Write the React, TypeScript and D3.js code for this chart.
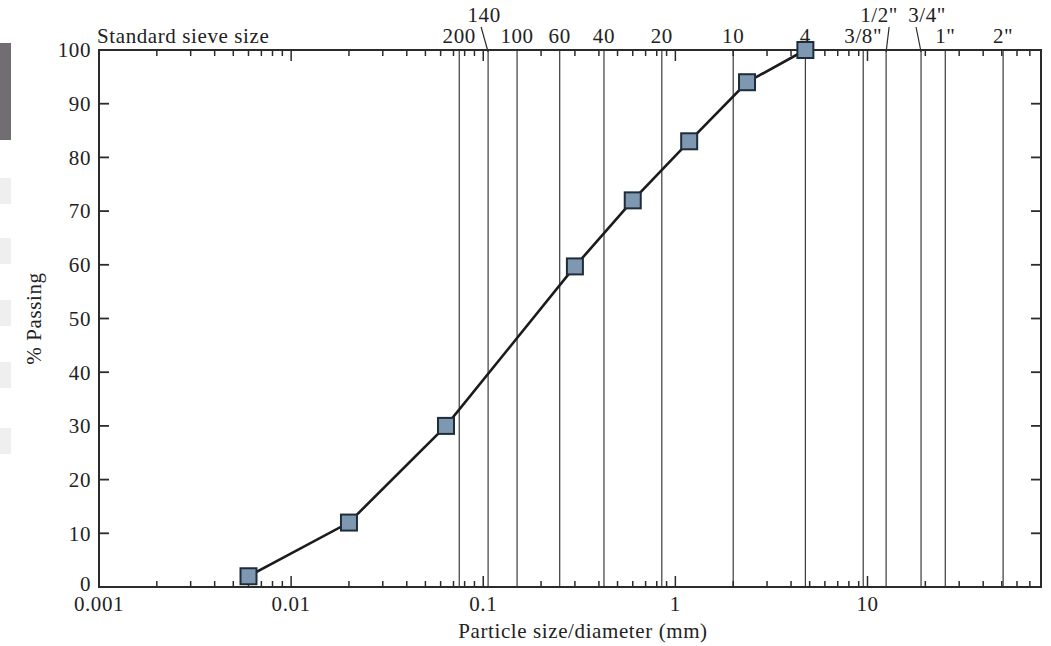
import React from 'react';
import * as d3 from 'd3';

// grain size distribution (mm, % passing)
const particleSizes = [0.006, 0.02, 0.064, 0.3, 0.6, 1.18, 2.36, 4.75];
const percentPassing = [2, 12, 30, 59.7, 72, 83, 94, 100];

// standard sieve openings (mm) and their labels
const sieveLabels = ['200', '140', '100', '60', '40', '20', '10', '4', '3/8"', '1/2"', '3/4"', '1"', '2"'];
const sieveSizes = [0.075, 0.106, 0.15, 0.25, 0.425, 0.85, 2.0, 4.75, 9.5, 12.5, 19.0, 25.4, 50.8];
const raisedLabels = ['140', '1/2"', '3/4"'];

const xTickLabels = ['0.001', '0.01', '0.1', '1', '10'];
const yTickValues = [0, 10, 20, 30, 40, 50, 60, 70, 80, 90, 100];

const width = 1051;
const height = 646;
const margin = { top: 50, right: 10, bottom: 59, left: 99 };
const font = '"Liberation Serif", "Times New Roman", serif';
const ink = '#2b2b2b';

// label / leader offsets for the raised sieve labels (relative to the sieve line)
const raisedOffsets = {
  '140': { label: -4, leader: -7 },
  '1/2"': { label: -7, leader: 3 },
  '3/4"': { label: 6, leader: -5 },
};

export default function App() {
  const x = d3
    .scaleLog()
    .domain([0.001, 80])
    .range([margin.left, width - margin.right]);
  const y = d3
    .scaleLinear()
    .domain([0, 100])
    .range([height - margin.bottom, margin.top]);

  const [x0, x1] = x.range();
  const [y0, y1] = y.range(); // y0 bottom, y1 top

  const logTicks = x.ticks();
  const isMajor = (v) => Math.abs(Math.log10(v) - Math.round(Math.log10(v))) < 1e-9;

  const line = d3
    .line()
    .x((d) => x(d[0]))
    .y((d) => y(d[1]));
  const points = particleSizes.map((s, i) => [s, percentPassing[i]]);

  const textStyle = { fontFamily: font, fontSize: 21, letterSpacing: 0.6, fill: '#222' };

  return (
    <svg
      width={width}
      height={height}
      viewBox={`0 0 ${width} ${height}`}
      style={{ position: 'absolute', left: 0, top: 0, background: '#fff' }}
    >
      {/* scan artefacts on the left edge */}
      <rect x={0} y={43} width={11} height={97} fill="#716d72" />
      {[178, 238, 300, 362, 428].map((t) => (
        <rect key={t} x={0} y={t} width={11} height={26} fill="#efefef" />
      ))}

      {/* sieve lines */}
      {sieveSizes.map((s, i) => (
        <line key={'sv' + i} x1={x(s)} x2={x(s)} y1={y1} y2={y0} stroke="#3a3a3a" strokeWidth={1.2} />
      ))}

      {/* sieve labels */}
      {sieveSizes.map((s, i) => {
        const lab = sieveLabels[i];
        const cx = x(s);
        if (!raisedLabels.includes(lab)) {
          return (
            <text key={'sl' + i} x={cx} y={y1 - 7} textAnchor="middle" style={textStyle}>
              {lab}
            </text>
          );
        }
        const off = raisedOffsets[lab];
        return (
          <g key={'sl' + i}>
            <text x={cx + off.label} y={y1 - 28} textAnchor="middle" style={textStyle}>
              {lab}
            </text>
            <line
              x1={cx + off.leader}
              y1={y1 - 23}
              x2={cx}
              y2={y1 + 2}
              stroke={ink}
              strokeWidth={1.2}
            />
          </g>
        );
      })}

      <text x={x0 - 2} y={y1 - 7} style={textStyle}>
        Standard sieve size
      </text>

      {/* log ticks on bottom and top */}
      {logTicks.map((t, i) => {
        const len = isMajor(t) ? 11 : 6;
        return (
          <g key={'xt' + i}>
            <line x1={x(t)} x2={x(t)} y1={y0} y2={y0 - len} stroke={ink} strokeWidth={1.5} />
            <line x1={x(t)} x2={x(t)} y1={y1} y2={y1 + len} stroke={ink} strokeWidth={1.5} />
          </g>
        );
      })}

      {/* y ticks on left and right */}
      {yTickValues.map((v) => (
        <g key={'yt' + v}>
          <line x1={x0} x2={x0 + 10} y1={y(v)} y2={y(v)} stroke={ink} strokeWidth={1.8} />
          <line x1={x1} x2={x1 - 10} y1={y(v)} y2={y(v)} stroke={ink} strokeWidth={1.8} />
          <text x={x0 - 8} y={y(v) - (v === 0 ? 3 : 0)} dy="0.35em" textAnchor="end" style={textStyle}>
            {v}
          </text>
        </g>
      ))}

      {/* x tick labels */}
      {xTickLabels.map((l) => (
        <text key={'xl' + l} x={x(+l)} y={y0 + 24} textAnchor="middle" style={textStyle}>
          {l}
        </text>
      ))}

      {/* frame */}
      <rect x={x0} y={y1} width={x1 - x0} height={y0 - y1} fill="none" stroke={ink} strokeWidth={2} />

      {/* curve and markers */}
      <path d={line(points)} fill="none" stroke="#1b1b1b" strokeWidth={2.6} />
      {points.map((p, i) => (
        <rect
          key={'m' + i}
          x={x(p[0]) - 8}
          y={y(p[1]) - 8}
          width={16}
          height={16}
          fill="#7e98b1"
          stroke="#1f2d3b"
          strokeWidth={2}
        />
      ))}

      {/* axis titles */}
      <text x={583} y={height - 8} textAnchor="middle" style={textStyle}>
        Particle size/diameter (mm)
      </text>
      <text
        transform={`translate(${41},${(y0 + y1) / 2}) rotate(-90)`}
        textAnchor="middle"
        style={textStyle}
      >
        % Passing
      </text>
    </svg>
  );
}
